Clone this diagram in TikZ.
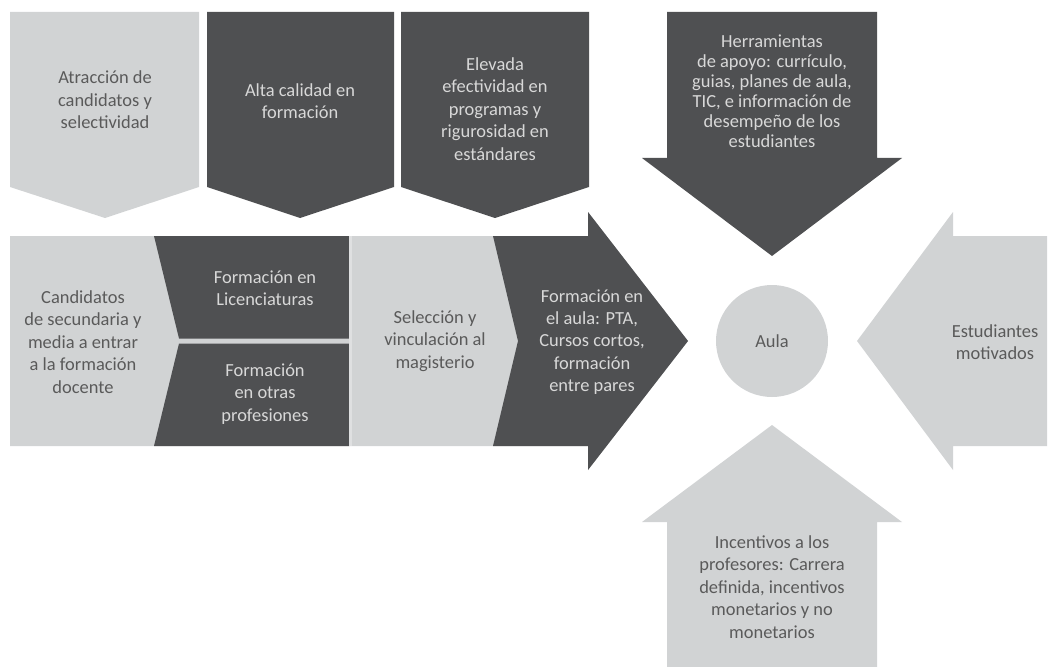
\documentclass[tikz,border=0pt]{standalone}
\usepackage{fontspec}
\setmainfont{Carlito}
\usepackage{tikz}
\usetikzlibrary{calc}

\definecolor{claro}{HTML}{D1D3D4}
\definecolor{oscuro}{HTML}{4F5052}
\definecolor{txtclaro}{HTML}{D8D8D8}
\definecolor{txtoscuro}{HTML}{5A5A5A}

\tikzset{
	tclaro/.style={align=center,text=txtoscuro,font=\fontsize{18.5}{22.5}\selectfont},
	toscuro/.style={align=center,text=txtclaro,font=\fontsize{18.5}{22.5}\selectfont},
}

\begin{document}
\begin{tikzpicture}[x=1bp,y=-1bp]
			          %\draw[help lines] (0,0) grid (1049,667);
			          \useasboundingbox (0,0) rectangle (1049,667);

			          %cajas de arriba
			          \fill[claro] (10,12) -- (199,12) -- (199,187) -- (105,218) -- (10,187) -- cycle;
			          \fill[oscuro] (207,12) -- (394,12) -- (394,187) -- (300,218) -- (207,187) -- cycle;
			          \fill[oscuro] (401,12) -- (589,12) -- (589,187) -- (495,218) -- (401,187) -- cycle;
			          \node[tclaro] (atraccion) at (105,100) {Atracción de\\candidatos y\\selectividad};
			          \node[toscuro] (alta) at (300,101) {Alta calidad en\\formación};
			          \node[toscuro] (elevada) at (495,109) {Elevada\\efectividad en\\programas y\\rigurosidad en\\estándares};

			          %flecha principal
			          \fill[claro] (10,236) -- (588,236) -- (588,212) -- (688,341) -- (588,470) -- (588,446) -- (10,446) -- cycle;
			          \fill[oscuro] (154,236) -- (349,236) -- (349,338.5) -- (179,338.5) -- cycle;
			          \fill[oscuro] (179,343.5) -- (349,343.5) -- (349,446) -- (154,446) -- cycle;
			          \fill[claro!70!white] (349,236) rectangle (352,446);
			          \fill[oscuro] (493,236) -- (588,236) -- (588,212) -- (688,341) -- (588,470) -- (588,446) -- (493,446) -- (518,341) -- cycle;
			          \node[tclaro] (candidatos) at (83,342) {Candidatos\\de secundaria y\\media a entrar\\a la formación\\docente};
			          \node[toscuro] (licenc) at (265,288) {Formación en\\Licenciaturas};
			          \node[toscuro] (otras) at (265,394) {Formación\\en otras\\profesiones};
			          \node[tclaro] (seleccion) at (435,341) {Selección y\\vinculación al\\magisterio};
			          \node[toscuro] (enaula) at (592,342) {Formación en\\el aula: PTA,\\Cursos cortos,\\formación\\entre pares};

			          %flechas hacia el aula
			          \fill[oscuro] (667,12) -- (877,12) -- (877,158) -- (902,158) -- (772,256) -- (642,158) -- (667,158) -- cycle;
			          \fill[claro] (1047,236) -- (953,236) -- (953,212) -- (857,341) -- (953,470) -- (953,446) -- (1047,446) -- cycle;
			          \fill[claro] (667,667) -- (667,522) -- (642,522) -- (772,425) -- (902,522) -- (877,522) -- (877,667) -- cycle;
			          \node[toscuro,font=\fontsize{18.5}{20}\selectfont] (herram) at (772,91) {Herramientas\\de apoyo: currículo,\\guias, planes de aula,\\TIC, e información de\\desempeño de los\\estudiantes};
			          \node[tclaro] (estud) at (995,342) {Estudiantes\\motivados};
			          \node[tclaro] (incent) at (772,587) {Incentivos a los\\profesores: Carrera\\definida, incentivos\\monetarios y no\\monetarios};

			          \node[tclaro,circle,fill=claro,minimum size=112bp] (aula) at (772,341) {Aula};
\end{tikzpicture}
\end{document}
